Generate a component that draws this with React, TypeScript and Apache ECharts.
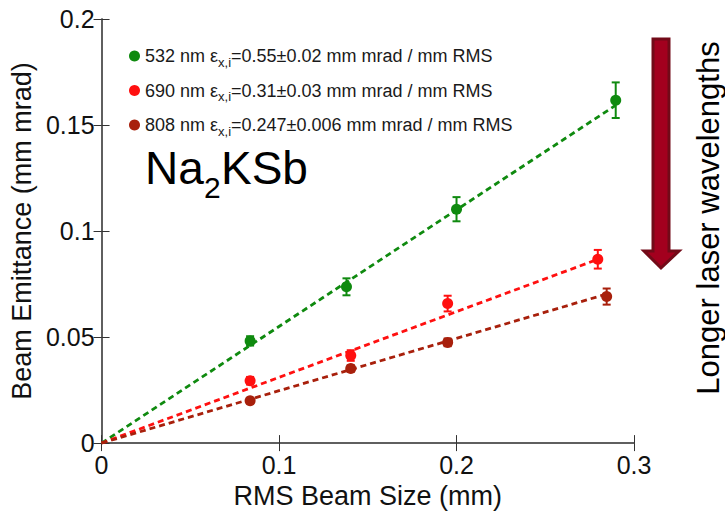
import React, { useEffect, useRef } from "react";
import * as echarts from "echarts";

const xTicks = [0, 0.1, 0.2, 0.3];
const yTicks = [0, 0.05, 0.1, 0.15, 0.2];

const seriesNames = ["532 nm", "690 nm", "808 nm"];
const seriesColors = ["#0f8a0f", "#ff1010", "#a8200c"];
const slopes = [0.55, 0.31, 0.247];
const slopeLabels = ["0.55±0.02", "0.31±0.03", "0.247±0.006"];

const x532 = [0.0837, 0.138, 0.2, 0.2897];
const y532 = [0.0482, 0.0737, 0.1103, 0.1617];
const e532 = [0.0022, 0.004, 0.0057, 0.0084];

const x690 = [0.0837, 0.1404, 0.195, 0.2796];
const y690 = [0.0294, 0.0413, 0.0658, 0.0867];
const e690 = [0.0018, 0.0025, 0.0037, 0.0044];

const x808 = [0.0837, 0.1404, 0.195, 0.2846];
const y808 = [0.02, 0.0352, 0.0475, 0.0691];
const e808 = [0.0012, 0.0015, 0.0018, 0.0038];

export default function App() {
  const ref = useRef<HTMLDivElement>(null);
  useEffect(() => {
    document.body.style.margin = "0";
    const chart = echarts.init(ref.current!, null, { renderer: "svg" });
    const xs = [x532, x690, x808];
    const ys = [y532, y690, y808];
    const es = [e532, e690, e808];
    const font = "Liberation Sans, Arial, sans-serif";
    const series: any[] = [];
    seriesNames.forEach((name, i) => {
      const xmax = xs[i][xs[i].length - 1];
      series.push({
        type: "line",
        name: name + " fit",
        data: [
          [0, 0],
          [xmax, slopes[i] * xmax],
        ],
        showSymbol: false,
        symbol: "none",
        lineStyle: { color: seriesColors[i], width: 2.8, type: [6, 4] },
        z: 2,
      });
      series.push({
        type: "custom",
        name: name + " err",
        data: xs[i].map((x, j) => [x, ys[i][j] - es[i][j], ys[i][j] + es[i][j]]),
        renderItem: (params: any, api: any) => {
          const lo = api.coord([api.value(0), api.value(1)]);
          const hi = api.coord([api.value(0), api.value(2)]);
          const c = seriesColors[i];
          const st = { stroke: c, lineWidth: 2 };
          return {
            type: "group",
            children: [
              { type: "line", shape: { x1: lo[0], y1: lo[1], x2: hi[0], y2: hi[1] }, style: st },
              { type: "line", shape: { x1: lo[0] - 4, y1: lo[1], x2: lo[0] + 4, y2: lo[1] }, style: st },
              { type: "line", shape: { x1: hi[0] - 4, y1: hi[1], x2: hi[0] + 4, y2: hi[1] }, style: st },
            ],
          };
        },
        z: 3,
      });
      series.push({
        type: "scatter",
        name: name,
        data: xs[i].map((x, j) => [x, ys[i][j]]),
        symbol: "circle",
        symbolSize: 11,
        itemStyle: { color: seriesColors[i], opacity: 1 },
        z: 4,
      });
    });

    const axisCommon = {
      axisLine: { show: true, lineStyle: { color: "#555", width: 1.5 } },
      axisTick: { show: true, inside: true, length: 8, lineStyle: { color: "#333", width: 1 } },
      splitLine: { show: false },
    };

    chart.setOption({
      animation: false,
      backgroundColor: "#fff",
      grid: { left: 100, right: 91, top: 19, bottom: 58, show: false },
      legend: {
        orient: "vertical",
        left: 124,
        top: 42,
        itemGap: 13,
        itemWidth: 11,
        itemHeight: 11,
        icon: "circle",
        data: seriesNames,
        formatter: (n: string) => {
          const i = seriesNames.indexOf(n);
          return `{a|${n} ε}{s|x,i}{a|=${slopeLabels[i]} mm mrad / mm RMS}`;
        },
        textStyle: {
          fontFamily: font,
          rich: {
            a: { fontSize: 18, color: "#1a1a1a", fontFamily: font },
            s: { fontSize: 13, color: "#1a1a1a", fontFamily: font, padding: [12, 0, 0, 0] },
          },
        },
      },
      xAxis: [
        {
          type: "value",
          min: 0,
          max: 0.3,
          interval: 0.1,
          name: "RMS Beam Size (mm)",
          nameLocation: "middle",
          nameGap: 30,
          nameTextStyle: { fontSize: 27, color: "#111", fontFamily: font },
          axisLabel: {
            fontSize: 25,
            color: "#111",
            fontFamily: font,
            margin: 9,
            formatter: (v: number) => (xTicks.some((t) => Math.abs(t - v) < 1e-9) ? String(+v.toFixed(2)) : ""),
          },
          ...axisCommon,
        },
        {
          type: "value",
          position: "top",
          min: 0,
          max: 0.3,
          interval: 0.1,
          axisLabel: { show: false },
          ...axisCommon,
        },
      ],
      yAxis: [
        {
          type: "value",
          min: 0,
          max: 0.2,
          interval: 0.05,
          name: "Beam Emittance (mm mrad)",
          nameLocation: "middle",
          nameGap: 64,
          nameTextStyle: { fontSize: 27, color: "#111", fontFamily: font },
          axisLabel: {
            fontSize: 25,
            color: "#111",
            fontFamily: font,
            margin: 7,
            formatter: (v: number) => (yTicks.some((t) => Math.abs(t - v) < 1e-9) ? String(+v.toFixed(2)) : ""),
          },
          ...axisCommon,
        },
        {
          type: "value",
          position: "right",
          min: 0,
          max: 0.2,
          interval: 0.05,
          axisLabel: { show: false },
          ...axisCommon,
        },
      ],
      series,
      graphic: [
        {
          type: "text",
          x: 145,
          y: 168,
          style: { text: "Na", fontSize: 46, fontFamily: font, fill: "#000", verticalAlign: "middle" },
        },
        {
          type: "text",
          x: 204,
          y: 187,
          style: { text: "2", fontSize: 30, fontFamily: font, fill: "#000", verticalAlign: "middle" },
        },
        {
          type: "text",
          x: 221,
          y: 168,
          style: { text: "KSb", fontSize: 46, fontFamily: font, fill: "#000", verticalAlign: "middle" },
        },
        {
          type: "polygon",
          shape: {
            points: [
              [653, 39],
              [669, 39],
              [669, 251],
              [679, 251],
              [661, 268],
              [644, 251],
              [653, 251],
            ],
          },
          style: { fill: "#a3001e", stroke: "#720a18", lineWidth: 3 },
        },
        {
          type: "text",
          x: 708,
          y: 218,
          rotation: Math.PI / 2,
          style: {
            text: "Longer laser wavelengths",
            fontSize: 31,
            fontFamily: font,
            fill: "#000",
            align: "center",
            verticalAlign: "middle",
          },
        },
      ],
    });
    return () => chart.dispose();
  }, []);
  return <div ref={ref} style={{ width: 725, height: 514 }} />;
}
